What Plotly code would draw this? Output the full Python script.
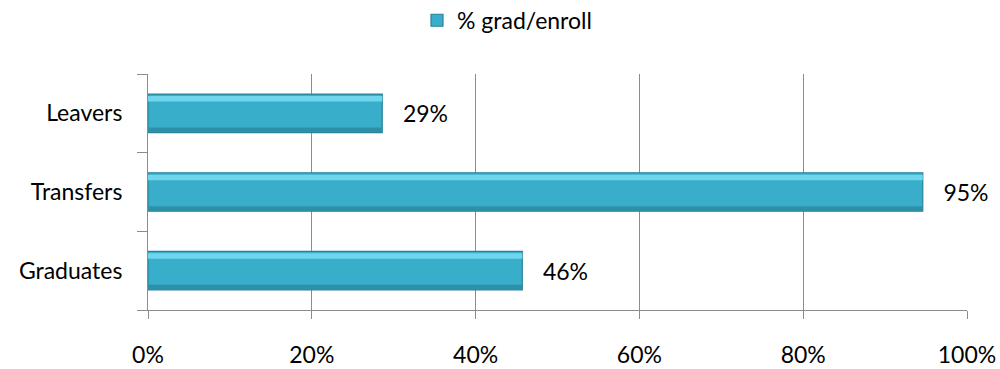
import plotly.graph_objects as go

categories = ["Graduates", "Transfers", "Leavers"]
values = [0.457, 0.946, 0.286]
labels = ["46%", "95%", "29%"]
x_ticks = [0, 0.2, 0.4, 0.6, 0.8, 1.0]
x_tick_labels = ["0%", "20%", "40%", "60%", "80%", "100%"]

FONT = "Lato, 'Open Sans', sans-serif"

fig = go.Figure()
# main bar
fig.add_trace(go.Bar(
    y=categories, x=values, orientation="h", name="% grad/enroll",
    width=0.49,
    marker=dict(color="#38AECB", line=dict(color="#2A8199", width=1.2)),
    text=labels, texttemplate="   %{text}", textposition="outside", cliponaxis=False,
    textfont=dict(size=23, color="#000000", family=FONT),
))
# top highlight strip (bevel effect)
fig.add_trace(go.Bar(
    y=categories, x=values, orientation="h", showlegend=False,
    width=0.07, offset=0.15,
    marker=dict(color="#6FD6EE", line=dict(width=0)),
    hoverinfo="skip",
))
# bottom shade strip
fig.add_trace(go.Bar(
    y=categories, x=values, orientation="h", showlegend=False,
    width=0.06, offset=-0.24,
    marker=dict(color="#2E90A8", line=dict(width=0)),
    hoverinfo="skip",
))

fig.update_layout(
    width=1000, height=369,
    barmode="overlay",
    margin=dict(l=148, r=33, t=74, b=59, autoexpand=False),
    paper_bgcolor="white", plot_bgcolor="white",
    font=dict(family=FONT, size=23, color="#000000"),
    showlegend=True,
    legend=dict(orientation="h", xref="container", yref="container",
                x=0.507, xanchor="center", y=0.945, yanchor="middle",
                font=dict(size=23, family=FONT), itemwidth=30),
    xaxis=dict(range=[0, 1.0], tickvals=x_ticks, ticktext=x_tick_labels,
               showgrid=True, gridcolor="#8C8C8C", gridwidth=1,
               showline=True, linecolor="#8C8C8C", linewidth=1,
               ticks="outside", ticklen=8, tickcolor="#8C8C8C",
               ticklabelstandoff=16, zeroline=False, automargin=False,
               tickfont=dict(size=23, family=FONT)),
    yaxis=dict(categoryorder="array", categoryarray=categories,
               showgrid=False, showline=True, linecolor="#8C8C8C", linewidth=1,
               ticks="outside", ticklen=10, tickcolor="#8C8C8C",
               tickson="boundaries", ticklabelstandoff=20, automargin=False,
               tickfont=dict(size=23, family=FONT)),
)

fig.write_html("out.html")
